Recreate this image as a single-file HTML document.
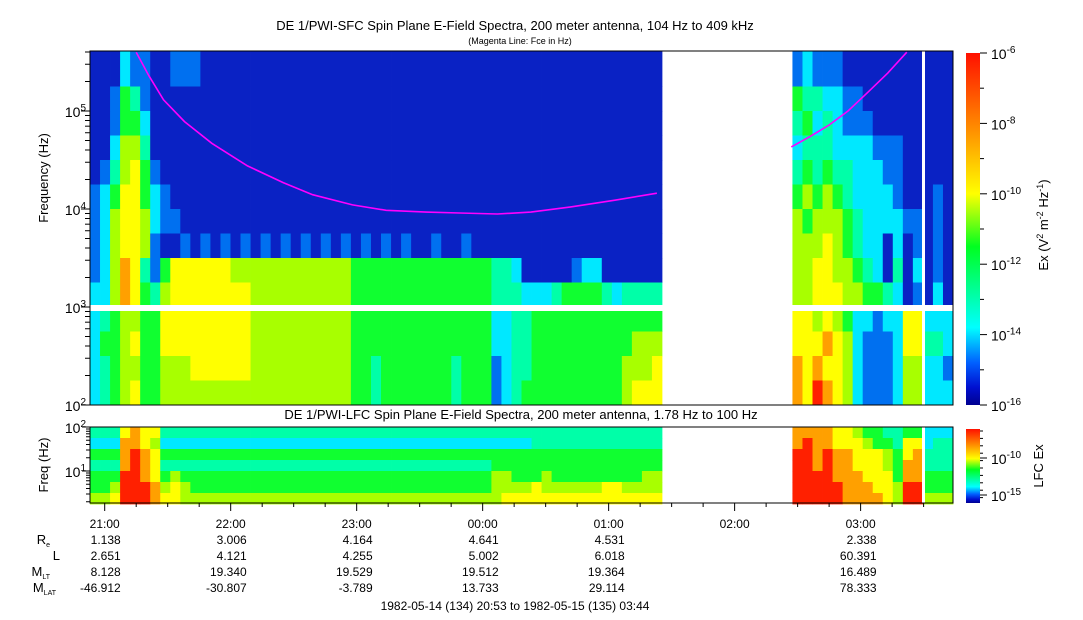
<!DOCTYPE html>
<html><head><meta charset="utf-8">
<style>
html,body{margin:0;padding:0;background:#fff;}
svg{display:block;font-family:"Liberation Sans",Arial,sans-serif;}
</style></head>
<body>
<svg id="chart" width="1083" height="620" viewBox="0 0 1083 620" xmlns="http://www.w3.org/2000/svg">
<defs>
<linearGradient id="jet" x1="0" y1="0" x2="0" y2="1">
<stop offset="0" stop-color="#ff1000"/><stop offset="0.22" stop-color="#ff9000"/><stop offset="0.4" stop-color="#ffff00"/><stop offset="0.55" stop-color="#00ff20"/><stop offset="0.78" stop-color="#00ffff"/><stop offset="0.88" stop-color="#0060ff"/><stop offset="0.95" stop-color="#0010d0"/><stop offset="1" stop-color="#000090"/>
</linearGradient>
</defs>
<text x="515" y="30" text-anchor="middle" font-size="13">DE 1/PWI-SFC  Spin Plane E-Field Spectra, 200 meter antenna, 104 Hz to 409 kHz</text>
<text x="520" y="44" text-anchor="middle" font-size="9">(Magenta Line: Fce in Hz)</text>
<text x="521" y="419" text-anchor="middle" font-size="13">DE 1/PWI-LFC  Spin Plane E-Field Spectra, 200 meter antenna, 1.78 Hz to 100 Hz</text>
<g id="sfc"></g>
<g id="lfc"></g>
<g id="axes"></g>
<text transform="translate(48,178) rotate(-90)" text-anchor="middle" font-size="13">Frequency (Hz)</text>
<text transform="translate(48,465) rotate(-90)" text-anchor="middle" font-size="13">Freq (Hz)</text>
<rect x="966" y="53" width="14" height="352" fill="url(#jet)"/>
<rect x="966" y="429" width="14" height="74" fill="url(#jet)"/>
<text transform="translate(1048,225) rotate(-90)" text-anchor="middle" font-size="13">Ex (V<tspan dy="-5" font-size="9">2</tspan><tspan dy="5"> m</tspan><tspan dy="-5" font-size="9">-2</tspan><tspan dy="5"> Hz</tspan><tspan dy="-5" font-size="9">-1</tspan><tspan dy="5">)</tspan></text>
<text transform="translate(1043,466) rotate(-90)" text-anchor="middle" font-size="13">LFC Ex</text>
<g id="cb"></g>
<g id="info"></g>
</svg>
<script>
const NS="http://www.w3.org/2000/svg";
// ---- data ----
const totalMinutes = 411; // 20:53 -> 03:44
const binCount = 86;
const sfcEdges = [2,2.25,2.5,2.75,3,3.25,3.5,3.75,4,4.25,4.5,4.75,5,5.25,5.61]; // log10 Hz, bottom->top
const sfcRows = [
"11132211"+"22211111"+"1111111111"+"11111111111111"+"1111"+"111111111"+"1111"+"-------------"+"2322211111111111",
"11254211"+"11111111"+"1111111111"+"11111111111111"+"1111"+"111111111"+"1111"+"-------------"+"5443322111111111",
"11255311"+"11111111"+"1111111111"+"11111111111111"+"1111"+"111111111"+"1111"+"-------------"+"4534322211111111",
"11366411"+"11111111"+"1111111111"+"11111111111111"+"1111"+"111111111"+"1111"+"-------------"+"3444333322211111",
"12467521"+"11111111"+"1111111111"+"11111111111111"+"1111"+"111111111"+"1111"+"-------------"+"4545443332211111",
"23577532"+"11111111"+"1111111111"+"11111111111111"+"1111"+"111111111"+"1111"+"-------------"+"5656543333211121",
"23677632"+"21111111"+"1111111111"+"11111111111111"+"1111"+"111111111"+"1111"+"-------------"+"6566654333322121",
"23677621"+"12121212"+"1212121212"+"12121211211211"+"1111"+"111111111"+"1111"+"-------------"+"6667654331312121",
"23687425"+"77777766"+"6666666666"+"55555555555555"+"4431"+"111123311"+"1111"+"-------------"+"6677665431413121",
"33687546"+"77777777"+"6666666666"+"55555555555555"+"4443"+"334555543"+"4444"+"-------------"+"6677766554312131",
"34566557"+"77777777"+"6666666666"+"55555555555555"+"3344"+"555555555"+"5555"+"-------------"+"7767653323377333",
"35567557"+"77777777"+"6666666666"+"55555555555555"+"3344"+"555555555"+"5666"+"-------------"+"7778763222377443",
"34566556"+"66777777"+"6666666666"+"55455555554555"+"2344"+"555555555"+"6667"+"-------------"+"8787763222366332",
"34567556"+"66666666"+"6666666666"+"55455555554555"+"2345"+"555555555"+"6777"+"-------------"+"8798763222366333"
];
const lfcEdges = [0.25,0.5,0.75,1,1.25,1.5,1.75,2];
const lfcRows = [
"44478774"+"44444444"+"4444444444"+"44444444444444"+"4444"+"444444444"+"4444"+"-------------"+"8888776554455333",
"33388763"+"33333333"+"3333333333"+"33333333333333"+"3333"+"444444444"+"4444"+"-------------"+"8988777655477344",
"55589875"+"55555555"+"5555555555"+"55555555555555"+"5555"+"555555555"+"5555"+"-------------"+"9989887776578444",
"44489874"+"44444444"+"4444444444"+"44444444444444"+"5555"+"555555555"+"5555"+"-------------"+"9989887776588444",
"55599875"+"65555555"+"5555555555"+"55555555555555"+"6655"+"565555555"+"5566"+"-------------"+"9999888777588555",
"55699986"+"76555555"+"5555555555"+"55555555555555"+"6666"+"766666677"+"6666"+"-------------"+"9999988877699555",
"66799987"+"76666666"+"6666666666"+"66666666666666"+"6777"+"777777777"+"7777"+"-------------"+"9999988887699666"
];
const levelColors = ["#000090","#0a22c4","#0070f0","#00e8ff","#00ffa8","#10ff30","#a8ff00","#ffff00","#ffa000","#ff2000"];
const fceMinA = [22,28,35,45,58,75,92,106,125,141,160,176,194,210,229,250,270];
const fceHzA = [398000,230000,130000,78000,46800,27500,18600,14000,11000,9700,9300,9100,8900,9300,10500,12300,14500];
const fceMinB = [334,343,352,361,370,380,389];
const fceHzB = [43000,55000,72000,100000,152000,245000,398000];
const hourLabels = ["21:00","22:00","23:00","00:00","01:00","02:00","03:00"];
const hourMinutes = [7,67,127,187,247,307,367];
const reVals = ["1.138","3.006","4.164","4.641","4.531","","2.338"];
const lVals = ["2.651","4.121","4.255","5.002","6.018","","60.391"];
const mltVals = ["8.128","19.340","19.529","19.512","19.364","","16.489"];
const mlatVals = ["-46.912","-30.807","-3.789","13.733","29.114","","78.333"];
// ---- scales ----
const X0=90,X1=953;
const xS=m=>X0+m*(X1-X0)/totalMinutes;
const yS=l=>111-(l-5)*98;
const yL=l=>427+(2-l)*44;
function mk(tag,attrs,parent){const e=document.createElementNS(NS,tag);for(const k in attrs)e.setAttribute(k,attrs[k]);parent.appendChild(e);return e;}
const binMin=totalMinutes/binCount;
function drawGrid(g,rows,edges,ys){
  const n=edges.length-1;
  rows.forEach((row,r)=>{
    const lo=edges[n-1-r],hi=edges[n-r];
    const y0=ys(hi),y1=ys(lo);
    for(let i=0;i<row.length;i++){
      const c=row[i]; if(c==='-')continue;
      const x0=xS(i*binMin),x1=xS((i+1)*binMin);
      const rc=mk('rect',{x:x0.toFixed(2),y:y0.toFixed(2),width:(x1-x0+0.4).toFixed(2),height:(y1-y0+0.4).toFixed(2),fill:levelColors[+c]},g);
      
      
    }
  });
}
const sfc=document.getElementById('sfc'),lfc=document.getElementById('lfc'),ax=document.getElementById('axes');
drawGrid(sfc,sfcRows,sfcEdges,yS);
drawGrid(lfc,lfcRows,lfcEdges,yL);
let w=mk('rect',{x:X0,y:305,width:X1-X0,height:6,fill:'#fff'},sfc);


const xLine=922;
w=mk('rect',{x:xLine,y:51,width:3,height:354,fill:'#fff'},sfc);


w=mk('rect',{x:xLine,y:427,width:3,height:76,fill:'#fff'},lfc);


function fceLine(mins,hz,name){
  const pts=mins.map((m,i)=>xS(m).toFixed(1)+','+yS(Math.log10(hz[i])).toFixed(1)).join(' ');
  const p=mk('polyline',{points:pts,fill:'none',stroke:'#ff00ff','stroke-width':1.6},sfc);
  
  
}
fceLine(fceMinA,fceHzA,'fce-line-1');
fceLine(fceMinB,fceHzB,'fce-line-2');
let f=mk('rect',{x:X0,y:51,width:X1-X0,height:354,fill:'none',stroke:'#000'},ax);


f=mk('rect',{x:X0,y:427,width:X1-X0,height:76,fill:'none',stroke:'#000'},ax);


function logLabel(parent,x,y,exp,name,anchor){
  const t=mk('text',{x:x,y:y,'text-anchor':anchor||'end','font-size':14},parent);
  
  
  t.innerHTML='10<tspan dy="-6" font-size="10">'+exp+'</tspan>';
}
for(let d=2;d<=5;d++){
  for(let k=1;k<=9;k++){
    const l=d+Math.log10(k); if(l>5.61)break;
    const y=yS(l);
    mk('line',{x1:X0-(k===1?9:5),x2:X0,y1:y,y2:y,stroke:'#000'},ax);
  }
  logLabel(ax,86,yS(d)+6,d,'y-tick-label');
}
for(let d=0;d<=2;d++){
  for(let k=1;k<=9;k++){
    const l=d+Math.log10(k); if(l<0.25||l>2)continue;
    const y=yL(l);
    mk('line',{x1:X0-(k===1?8:4),x2:X0,y1:y,y2:y,stroke:'#000'},ax);
  }
  if(d>=1)logLabel(ax,86,yL(d)+6,d,'lfc-y-tick-label');
}
for(let m=7;m<=totalMinutes;m+=15){
  const major=((m-7)%60===0);
  mk('line',{x1:xS(m),x2:xS(m),y1:503,y2:503+(major?8:4),stroke:'#000'},ax);
}
const info=document.getElementById('info');
const rowY=[528,544,560,576,592];
const rowsData=[hourLabels,reVals,lVals,mltVals,mlatVals];
rowsData.forEach((arr,r)=>{
  arr.forEach((v,i)=>{
    if(!v)return;
    const x=xS(hourMinutes[i]);
    const t=mk('text',{x:r===0?x:x+16,y:rowY[r],'text-anchor':r===0?'middle':'end','font-size':12},info);
    
    
    t.textContent=v;
  });
});
const rl=[['R','e'],['L',''],['M','LT'],['M','LAT']];
rl.forEach((p,i)=>{
  const t=mk('text',{x:p[1]?(p[1].length>2?56:50):60,y:rowY[i+1],'text-anchor':'end','font-size':13},info);
  
  
  t.innerHTML=p[0]+(p[1]?'<tspan dy="3" font-size="7">'+p[1]+'</tspan>':'');
});
let dt=mk('text',{x:515,y:610,'text-anchor':'middle','font-size':12},info);


dt.textContent='1982-05-14 (134) 20:53 to 1982-05-15 (135) 03:44';
const cb=document.getElementById('cb');
for(let e=-16;e<=-6;e++){
  const y=405-(e+16)*35.2;
  mk('line',{x1:980,x2:980+((e%2===0)?7:4),y1:y,y2:y,stroke:'#000'},cb);
  if(e%2===0)logLabel(cb,991,y+6,e,'colorbar-tick-label','start');
}
[[-10,458],[-15,495]].forEach(p=>{
  mk('line',{x1:980,x2:987,y1:p[1],y2:p[1],stroke:'#000'},cb);
  logLabel(cb,991,p[1]+6,p[0],'lfc-colorbar-tick-label','start');
});
for(let y=431;y<503;y+=7.4){mk('line',{x1:980,x2:983,y1:y,y2:y,stroke:'#000'},cb);}
</script>
</body></html>
